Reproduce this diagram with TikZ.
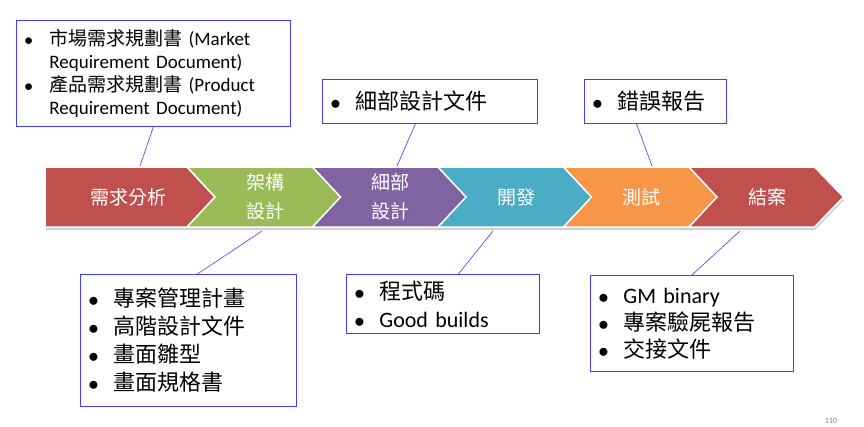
\documentclass[tikz,border=0pt]{standalone}
\usepackage{fontspec}
\setmainfont{Carlito}
\newfontfamily\cjk{Noto Sans CJK TC}

\definecolor{phRed}{HTML}{C0504D}
\definecolor{phGreen}{HTML}{9BBB59}
\definecolor{phPurple}{HTML}{8064A2}
\definecolor{phBlue}{HTML}{4BACC6}
\definecolor{phOrange}{HTML}{F79646}
\definecolor{boxblue}{RGB}{60,60,255}

\tikzset{
    chevron/.style={draw=white, line width=1.5pt, line join=miter},
    phase/.style={text=white, align=center, font=\cjk\fontsize{19}{29}\selectfont},
    infobox/.style={draw=boxblue, line width=0.8pt, anchor=north west,
        inner xsep=7pt, inner ysep=0pt, align=left,
        font=\fontsize{22}{28}\selectfont},
    link/.style={boxblue, line width=0.6pt},
}
\newcommand{\itm}{\makebox[26pt][l]{\hspace{1pt}$\bullet$}}

\begin{document}
\begin{tikzpicture}[x=1pt, y=-1pt]
    \useasboundingbox (0,0) rectangle (864,426);

    % Schatten unter dem Pfeilband
    \fill[black!30, opacity=0.6] (46,170) -- (815,170) -- (844,200)
        -- (815,230) -- (46,230) -- cycle;

    \draw[chevron, fill=phRed] (45,167) -- (187,167) -- (215,197)
        -- (187,227) -- (45,227) -- cycle;
    \node[phase] (req) at (128,197) {需求分析};
    \foreach \L/\col/\nm/\txt in {187/phGreen/arch/{架構\\設計},
        312.5/phPurple/detail/{細部\\設計}, 438/phBlue/dev/開發,
        563.5/phOrange/test/測試, 689/phRed/close/結案} {
        \draw[chevron, fill=\col] (\L,167) -- ++(125.5,0) -- ++(29,30)
            -- ++(-29,30) -- ++(-125.5,0) -- ++(28,-30) -- cycle;
        \node[phase] (\nm) at (\L+78,197) {\txt};
    }

    \node[infobox, minimum width=274pt, minimum height=106pt, text width=260pt,
        font=\fontsize{19}{23}\selectfont] (mrd) at (16,20)
        {\itm {\cjk 市場需求規劃書} (Market\\ \hspace*{26pt}Requirement Document)\\
         \itm {\cjk 產品需求規劃書} (Product\\ \hspace*{26pt}Requirement Document)};
    \node[infobox, minimum width=215pt, minimum height=44pt, text width=201pt]
        (dsd) at (322,79) {\itm {\cjk 細部設計文件}};
    \node[infobox, minimum width=142pt, minimum height=44pt, text width=128pt]
        (bugrep) at (584,79) {\itm {\cjk 錯誤報告}};
    \node[infobox, minimum width=216pt, minimum height=132pt, text width=202pt]
        (plan) at (80,274)
        {\itm {\cjk 專案管理計畫}\\ \itm {\cjk 高階設計文件}\\
         \itm {\cjk 畫面雛型}\\ \itm {\cjk 畫面規格書}};
    \node[infobox, minimum width=193pt, minimum height=59pt, text width=179pt]
        (code) at (346,274) {\itm {\cjk 程式碼}\\ \itm Good builds};
    \node[infobox, minimum width=203pt, minimum height=96pt, text width=189pt,
        font=\fontsize{22}{27}\selectfont] (handover) at (590,275)
        {\itm GM binary\\ \itm {\cjk 專案驗屍報告}\\ \itm {\cjk 交接文件}};

    \coordinate (req-top) at (140,166);
    \coordinate (detail-top) at (397,166);
    \coordinate (test-top) at (652,166);
    \coordinate (arch-bot) at (262,231);
    \coordinate (dev-bot) at (493,231);
    \coordinate (close-bot) at (740,231);

    \draw[link] (mrd.south) -- (req-top);
    \draw[link] ([xshift=-14.5pt]dsd.south) -- (detail-top);
    \draw[link] ([xshift=-19pt]bugrep.south) -- (test-top);
    \draw[link] ([xshift=9pt]plan.north) -- (arch-bot);
    \draw[link] ([xshift=15.5pt]code.north) -- (dev-bot);
    \draw[link] (handover.north) -- (close-bot);

    \node[text=gray, font=\fontsize{8}{10}\selectfont] (pageno) at (831,421) {110};
\end{tikzpicture}
\end{document}
